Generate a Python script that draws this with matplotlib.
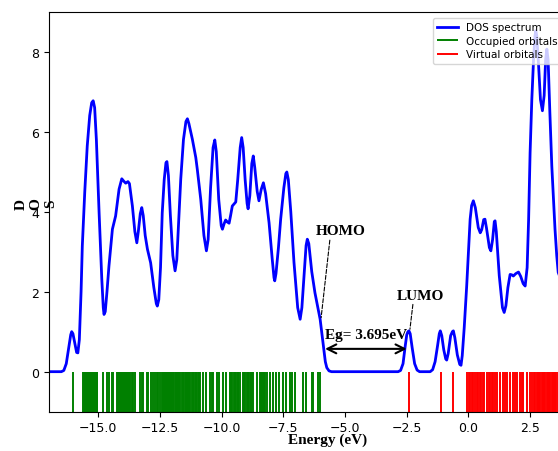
import numpy as np
import matplotlib
matplotlib.use("Agg")
import matplotlib.pyplot as plt

# DOS curve (energy in eV, density)
energy = [-17.0, -16.5, -16.4, -16.3, -16.2, -16.12, -16.08, -16.03, -15.95, -15.88,
          -15.83, -15.77, -15.70, -15.65, -15.55, -15.45, -15.35, -15.27, -15.21, -15.15,
          -15.08, -14.97, -14.86, -14.80, -14.77, -14.72, -14.65, -14.57, -14.43, -14.30,
          -14.16, -14.05, -13.97, -13.89, -13.80, -13.74, -13.62, -13.52, -13.44, -13.38,
          -13.30, -13.24, -13.18, -13.10, -13.01, -12.88, -12.75, -12.65, -12.61, -12.55,
          -12.48, -12.41, -12.33, -12.26, -12.22, -12.16, -12.08, -11.98, -11.89, -11.82,
          -11.75, -11.66, -11.55, -11.45, -11.39, -11.33, -11.19, -11.05, -10.99, -10.85,
          -10.72, -10.62, -10.55, -10.45, -10.35, -10.28, -10.22, -10.12, -10.02, -9.97,
          -9.90, -9.84, -9.77, -9.70, -9.64, -9.57, -9.43, -9.35, -9.25, -9.19,
          -9.13, -9.05, -8.97, -8.93, -8.86, -8.78, -8.72, -8.66, -8.56, -8.49,
          -8.40, -8.31, -8.22, -8.08, -7.95, -7.88, -7.85, -7.80, -7.70, -7.61,
          -7.48, -7.40, -7.36, -7.30, -7.20, -7.07, -6.92, -6.82, -6.75, -6.65,
          -6.58, -6.53, -6.47, -6.35, -6.22, -6.10, -6.01, -5.88, -5.80, -5.74,
          -5.65, -5.55, -2.85, -2.75, -2.65, -2.57, -2.50, -2.45, -2.41, -2.36,
          -2.28, -2.18, -2.08, -1.98, -1.55, -1.45, -1.35, -1.25, -1.18, -1.14,
          -1.08, -1.00, -0.92, -0.88, -0.82, -0.72, -0.65, -0.61, -0.55, -0.45,
          -0.35, -0.30, -0.25, -0.17, -0.07, 0.07, 0.13, 0.20, 0.28, 0.40,
          0.48, 0.54, 0.62, 0.67, 0.73, 0.85, 0.91, 0.98, 1.05, 1.08,
          1.13, 1.25, 1.38, 1.45, 1.52, 1.60, 1.69, 1.76, 1.82, 1.92,
          2.03, 2.12, 2.22, 2.30, 2.38, 2.44, 2.50, 2.57, 2.64, 2.70,
          2.73, 2.77, 2.84, 2.92, 3.00, 3.07, 3.13, 3.18, 3.23, 3.30,
          3.38, 3.51, 3.58, 3.64, 3.75, 3.90, 4.05, 4.20, 4.40]
dos = [0.0, 0.0, 0.03, 0.2, 0.6, 0.92, 1.0, 0.95, 0.7, 0.48,
       0.47, 0.8, 2.0, 3.14, 4.5, 5.64, 6.4, 6.72, 6.77, 6.6,
       5.8, 3.98, 2.31, 1.6, 1.43, 1.5, 2.0, 2.64, 3.56, 3.89,
       4.56, 4.82, 4.76, 4.71, 4.75, 4.7, 4.14, 3.5, 3.22, 3.5,
       3.95, 4.10, 3.9, 3.4, 3.06, 2.72, 2.1, 1.7, 1.64, 1.8,
       2.6, 3.97, 4.8, 5.22, 5.25, 4.9, 3.9, 2.9, 2.52, 2.8,
       3.7, 4.81, 5.8, 6.25, 6.32, 6.2, 5.81, 5.35, 5.06, 4.31,
       3.4, 3.02, 3.3, 4.6, 5.6, 5.79, 5.5, 4.3, 3.65, 3.56,
       3.7, 3.79, 3.74, 3.71, 3.9, 4.14, 4.24, 4.8, 5.6, 5.85,
       5.6, 4.8, 4.2, 4.07, 4.4, 5.2, 5.39, 5.1, 4.5, 4.27,
       4.55, 4.72, 4.45, 3.72, 2.8, 2.35, 2.27, 2.45, 3.1, 3.81,
       4.6, 4.95, 4.99, 4.8, 4.0, 2.73, 1.6, 1.31, 1.6, 2.5,
       3.15, 3.31, 3.2, 2.5, 1.97, 1.6, 1.31, 0.64, 0.25, 0.10,
       0.02, 0.0, 0.0, 0.03, 0.2, 0.6, 0.92, 1.0, 1.02, 0.95,
       0.6, 0.2, 0.04, 0.0, 0.0, 0.05, 0.25, 0.65, 0.95, 1.02,
       0.9, 0.55, 0.32, 0.29, 0.45, 0.9, 1.0, 1.02, 0.85, 0.42,
       0.18, 0.16, 0.4, 1.1, 2.14, 3.81, 4.15, 4.27, 4.1, 3.6,
       3.47, 3.55, 3.8, 3.81, 3.6, 3.1, 3.02, 3.3, 3.75, 3.77,
       3.5, 2.4, 1.6, 1.48, 1.65, 2.1, 2.43, 2.42, 2.39, 2.45,
       2.49, 2.38, 2.2, 2.14, 2.6, 3.8, 5.47, 6.8, 7.8, 8.4,
       8.52, 8.4, 7.7, 6.8, 6.52, 6.9, 7.8, 8.06, 7.8, 6.5,
       5.14, 3.56, 2.9, 2.48, 2.3, 2.6, 3.2, 3.5, 3.0]

occupied = [-16.04,
            -15.61, -15.57, -15.54, -15.50, -15.47, -15.43, -15.38, -15.34, -15.31, -15.27,
            -15.24, -15.20, -15.17, -15.15, -15.12, -15.09, -15.06, -15.04,
            -14.80, -14.66, -14.57, -14.46, -14.39,
            -14.25, -14.21, -14.17, -14.12, -14.08, -14.05, -14.01, -13.98, -13.95, -13.92,
            -13.88, -13.85, -13.82, -13.78, -13.75, -13.72, -13.65, -13.58, -13.51,
            -13.31, -13.24, -13.18, -13.04, -12.97, -12.88, -12.80,
            -12.70, -12.63, -12.57, -12.50, -12.43,
            -12.37, -12.34, -12.30, -12.26, -12.23, -12.19, -12.16, -12.13, -12.10, -12.06,
            -12.03, -11.99, -11.96,
            -11.89, -11.85, -11.82, -11.76, -11.72, -11.69, -11.62, -11.58, -11.55, -11.48,
            -11.45, -11.42, -11.35, -11.31, -11.28, -11.21, -11.18, -11.15, -11.08, -11.04,
            -11.01, -10.94, -10.91, -10.88,
            -10.74, -10.63, -10.47, -10.40, -10.34, -10.20, -10.09, -9.93, -9.82,
            -9.66, -9.62, -9.59, -9.52, -9.48, -9.45, -9.39, -9.35, -9.32, -9.26,
            -9.12, -9.08, -9.05, -8.98, -8.95, -8.92, -8.85, -8.81, -8.78, -8.72, -8.58,
            -8.45, -8.41, -8.38, -8.31, -8.28, -8.24, -8.18, -8.04,
            -7.91, -7.80, -7.69, -7.50, -7.39, -7.23, -7.14, -7.03,
            -6.69, -6.59, -6.35, -6.28, -6.08, -6.03]

virtual = [-2.41, -1.13, -0.62,
           -0.05, 0.02, 0.07, 0.14, 0.20, 0.27, 0.34, 0.40, 0.47, 0.52, 0.58, 0.63,
           0.74, 0.82, 0.88, 0.95, 1.01, 1.08, 1.15, 1.28, 1.42, 1.50, 1.55, 1.69,
           1.82, 1.90, 1.96, 2.09, 2.16, 2.23, 2.37, 2.50, 2.57, 2.64, 2.70, 2.77,
           2.82, 2.87, 2.92, 2.97, 3.02, 3.07, 3.12, 3.17, 3.22, 3.27, 3.32, 3.37,
           3.42, 3.47, 3.52, 3.57, 3.62, 3.68, 3.74, 3.80, 3.87, 3.95, 4.03, 4.12, 4.20]

homo = -6.03
lumo = -2.41
gap_text = 'Eg= 3.695eV'

serif = dict(family='Liberation Serif', fontweight='bold', fontsize=11)

fig = plt.figure(figsize=(5.58, 4.52), dpi=100)
ax = fig.add_axes([49 / 558, 39.3 / 452, 525.5 / 558, 399.4 / 452])

ax.plot(energy, dos, color='b', linewidth=2, label='DOS spectrum')
ax.vlines(occupied, -1, 0, colors='g', linewidth=1.4, label='Occupied orbitals')
ax.vlines(virtual, -1, 0, colors='r', linewidth=1.4, label='Virtual orbitals')

ax.set_xlim(-17, 4.3)
ax.set_ylim(-1, 8.98)
ax.set_xticks([-15.0, -12.5, -10.0, -7.5, -5.0, -2.5, 0.0, 2.5])
ax.set_yticks([0, 2, 4, 6, 8])
ax.tick_params(labelsize=9)

ax.set_xlabel('Energy (eV)', **serif)
ax.xaxis.set_label_coords(0.531, -0.053)
ax.set_ylabel('D\nO\nS', rotation=90, rotation_mode='default', ha='center', va='center', **serif)
ax.yaxis.set_label_coords(-0.0247, 0.5225)

# gap arrow and labels
ax.annotate('', xy=(-2.50, 0.57), xytext=(-5.81, 0.57),
            arrowprops=dict(arrowstyle='<->', color='k', lw=1.5, mutation_scale=16,
                            shrinkA=0, shrinkB=0))
ax.text(-4.15, 0.85, gap_text, ha='center', va='baseline', **serif)
ax.annotate('HOMO', xy=(homo + 0.06, 1.35), xytext=(-5.16, 3.43), ha='center', va='baseline',
            arrowprops=dict(arrowstyle='-', linestyle='--', lw=0.8, color='k',
                            relpos=(0.28, 0), shrinkA=0, shrinkB=0), **serif)
ax.annotate('LUMO', xy=(lumo + 0.04, 1.06), xytext=(-1.93, 1.825), ha='center', va='baseline',
            arrowprops=dict(arrowstyle='-', linestyle='--', lw=0.8, color='k',
                            relpos=(0.34, 0), shrinkA=0, shrinkB=0), **serif)

ax.legend(loc='upper left', bbox_to_anchor=(432.7 / 558, 1 - 19 / 452),
          bbox_transform=fig.transFigure, borderaxespad=0, fontsize=7.5,
          labelspacing=0.35)

fig.savefig('out.png', dpi=100)
